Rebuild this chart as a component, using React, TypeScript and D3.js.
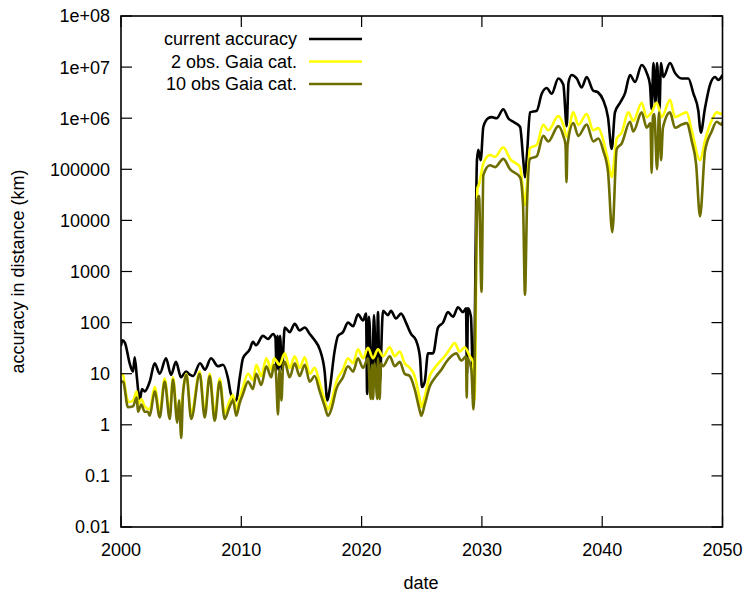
import React from 'react';
import * as d3 from 'd3';

// current accuracy (black)
const blackDates = [
  2000.0, 2000.12, 2000.33, 2000.72, 2001.0, 2001.14, 2001.33, 2001.55, 2001.75, 2001.97,
  2002.39, 2002.8, 2003.22, 2003.74, 2004.16, 2004.57, 2004.99, 2005.4, 2005.74, 2005.99,
  2006.57, 2006.98, 2007.48, 2008.06, 2008.48, 2008.9, 2009.14, 2009.56, 2009.89, 2010.14,
  2010.7, 2010.97, 2011.22, 2011.8, 2012.22, 2012.64, 2012.84, 2012.93, 2013.01, 2013.13,
  2013.22, 2013.38, 2013.61, 2014.02, 2014.44, 2014.85, 2015.27, 2015.69, 2016.1, 2016.52,
  2016.93, 2017.15, 2017.35, 2017.76, 2018.04, 2018.45, 2018.87, 2019.29, 2019.7, 2020.12,
  2020.37, 2020.46, 2020.62, 2020.86, 2021.03, 2021.24, 2021.36, 2021.5, 2021.78, 2022.19,
  2022.44, 2022.86, 2023.28, 2023.69, 2024.11, 2024.52, 2024.85, 2025.02, 2025.25, 2025.52,
  2025.94, 2026.35, 2026.77, 2027.18, 2027.6, 2028.01, 2028.43, 2028.68, 2028.76, 2028.84,
  2029.09, 2029.3, 2029.59, 2029.7, 2029.9, 2030.12, 2030.53, 2030.81, 2031.23, 2031.78,
  2032.19, 2032.61, 2033.17, 2033.44, 2033.58, 2033.75, 2034.0, 2034.56, 2034.97, 2035.39,
  2035.8, 2036.35, 2036.77, 2037.05, 2037.2, 2037.46, 2037.88, 2038.3, 2038.71, 2039.24,
  2039.65, 2040.07, 2040.48, 2040.79, 2041.06, 2041.48, 2041.9, 2042.31, 2042.73, 2043.28,
  2043.7, 2043.97, 2044.11, 2044.26, 2044.43, 2044.56, 2044.76, 2044.89, 2045.08, 2045.64,
  2046.05, 2046.61, 2047.16, 2047.57, 2047.99, 2048.19, 2048.55, 2048.96, 2049.38, 2049.65,
  2050.0,
];
const blackValues = [
  35, 45, 40, 16, 11, 21, 8, 3, 5, 4.5,
  7, 16, 10, 20, 9.5, 17, 8.5, 11, 9.5, 9,
  16, 12, 20, 14, 15, 8, 4, 3, 9, 20,
  30, 42, 36, 55, 48, 60, 50, 12, 55, 12,
  55, 12, 80, 65, 95, 70, 80, 60, 45, 30,
  11, 3, 5, 28, 55, 65, 100, 85, 145, 110,
  150, 4, 130, 6, 140, 5, 160, 6, 170, 140,
  170, 120, 150, 100, 60, 45, 21, 5.5, 7, 25,
  25, 80, 100, 160, 130, 200, 160, 190, 10, 190,
  130, 3, 1.5e5, 2.4e5, 1.5e5, 6.8e5, 1e6, 1.05e6, 1e6, 1.5e6,
  1e6, 8.5e5, 6.8e5, 1.5e5, 7e4, 2e5, 1.3e6, 1.4e6, 3e6, 3.9e6,
  3e6, 6e6, 4.5e6, 7e5, 5e6, 7e6, 6e6, 4e6, 6.4e6, 3.5e6,
  3.2e6, 2.3e6, 1.05e6, 2.5e5, 1.3e6, 2e6, 3.1e6, 7e6, 5.1e6, 1.1e7,
  7.7e6, 4.5e6, 1.5e6, 1.2e7, 2e6, 1.2e7, 1.5e6, 1.2e7, 6.4e6, 1.2e7,
  7.7e6, 6e6, 6e6, 3.1e6, 1.4e6, 5.2e5, 1.6e6, 4.5e6, 6.4e6, 5.6e6,
  7e6,
];

// 2 obs. Gaia cat. (yellow)
const yellowDates = [
  2000.0, 2000.17, 2000.42, 2000.67, 2001.0, 2001.31, 2001.41, 2001.69, 2001.97, 2002.39,
  2002.8, 2003.22, 2003.63, 2004.05, 2004.32, 2004.68, 2005.01, 2005.43, 2005.84, 2006.54,
  2006.96, 2007.37, 2007.79, 2008.2, 2008.62, 2009.04, 2009.31, 2009.58, 2009.87, 2010.14,
  2010.56, 2010.97, 2011.25, 2011.66, 2012.08, 2012.49, 2012.72, 2013.18, 2013.61, 2014.02,
  2014.44, 2014.85, 2015.27, 2015.69, 2016.1, 2016.52, 2016.93, 2017.21, 2017.48, 2017.9,
  2018.45, 2018.87, 2019.29, 2019.7, 2020.12, 2020.53, 2020.95, 2021.36, 2021.78, 2022.34,
  2022.75, 2023.17, 2023.58, 2024.0, 2024.41, 2024.83, 2024.96, 2025.25, 2025.66, 2026.08,
  2026.49, 2026.91, 2027.32, 2027.74, 2028.15, 2028.57, 2028.99, 2029.26, 2029.39, 2029.63,
  2029.76, 2029.93, 2030.12, 2030.67, 2031.09, 2031.78, 2032.34, 2033.17, 2033.44, 2033.58,
  2033.75, 2034.0, 2034.56, 2035.1, 2035.52, 2036.35, 2036.77, 2037.05, 2037.6, 2038.01,
  2038.71, 2039.26, 2039.68, 2040.09, 2040.48, 2040.79, 2041.21, 2041.62, 2042.17, 2042.59,
  2043.28, 2043.7, 2044.11, 2044.53, 2044.95, 2045.64, 2046.05, 2046.61, 2047.02, 2047.44,
  2048.13, 2048.55, 2049.1, 2049.52, 2049.93, 2050.0,
];
const yellowValues = [
  10, 9.5, 4, 2.8, 3, 4.5, 2.5, 3.2, 2.3, 2,
  5.5, 1.8, 8, 1.7, 8.5, 1.5, 2.5, 10, 1.7, 11,
  1.8, 10, 1.6, 8, 1.7, 3, 3.8, 2, 3.4, 5.5,
  10, 7.5, 15, 9, 20, 12, 20, 15, 25, 13,
  22, 13, 21, 10, 13, 6.5, 3, 2, 2.8, 7,
  12, 20, 16, 30, 20, 32, 20, 30, 22, 33,
  22, 27, 16, 13, 9, 3.2, 2.2, 3.6, 9, 13,
  17, 22, 30, 40, 27, 33, 22, 17, 3, 4.3e4,
  5e4, 8e4, 1.3e5, 1.9e5, 1.75e5, 2.7e5, 1.6e5, 1.1e5, 3.4e4, 2e4,
  5e4, 2.6e5, 3e5, 7.4e5, 5.8e5, 1.1e6, 7.4e5, 4.3e5, 1.3e6, 7.4e5,
  1.2e6, 5.8e5, 6.4e5, 3.7e5, 1.5e5, 7e4, 4e5, 5.2e5, 1.3e6, 8.8e5,
  2e6, 1.05e6, 1.3e6, 2e6, 1.05e6, 2.3e6, 1.05e6, 1.2e6, 1.3e6, 5.8e5,
  1.5e5, 3.7e5, 9e5, 1.3e6, 1.2e6, 1.3e6,
];

// 10 obs Gaia cat. (olive)
const oliveDates = [
  2000.0, 2000.17, 2000.58, 2001.0, 2001.31, 2001.41, 2001.69, 2001.97, 2002.24, 2002.39,
  2002.8, 2003.22, 2003.63, 2004.05, 2004.32, 2004.68, 2004.82, 2005.01, 2005.15, 2005.43,
  2005.84, 2006.54, 2006.96, 2007.37, 2007.79, 2008.2, 2008.62, 2009.04, 2009.31, 2009.58,
  2009.87, 2010.14, 2010.56, 2010.97, 2011.25, 2011.66, 2012.08, 2012.49, 2012.72, 2012.88,
  2013.05, 2013.18, 2013.34, 2013.47, 2013.61, 2014.02, 2014.44, 2014.85, 2015.27, 2015.69,
  2016.1, 2016.52, 2016.93, 2017.21, 2017.48, 2017.9, 2018.45, 2018.87, 2019.29, 2019.7,
  2020.12, 2020.53, 2020.76, 2020.86, 2020.95, 2021.07, 2021.31, 2021.36, 2021.5, 2021.61,
  2021.78, 2022.34, 2022.75, 2023.17, 2023.58, 2024.0, 2024.41, 2024.83, 2024.96, 2025.25,
  2025.66, 2026.21, 2026.63, 2027.04, 2027.46, 2027.87, 2028.29, 2028.68, 2028.74, 2028.8,
  2029.12, 2029.3, 2029.63, 2029.76, 2029.97, 2030.12, 2030.67, 2031.09, 2031.78, 2032.34,
  2033.17, 2033.42, 2033.58, 2033.75, 2034.0, 2034.56, 2035.1, 2035.52, 2036.35, 2036.77,
  2036.95, 2037.03, 2037.12, 2037.6, 2038.01, 2038.71, 2039.26, 2039.68, 2040.09, 2040.48,
  2040.84, 2041.21, 2041.62, 2042.31, 2042.59, 2043.28, 2043.7, 2044.01, 2044.11, 2044.22,
  2044.33, 2044.56, 2044.72, 2044.89, 2045.05, 2045.64, 2046.05, 2046.61, 2047.02, 2047.44,
  2047.8, 2048.13, 2048.55, 2049.1, 2049.52, 2049.93, 2050.0,
];
const oliveValues = [
  7, 7, 2.2, 2.3, 3.4, 1.8, 2.5, 1.8, 1.8, 1.5,
  4.5, 1.4, 7, 1.3, 7.7, 1.1, 3, 0.55, 4, 9.5,
  1.3, 10, 1.4, 9, 1.2, 7, 1.3, 2.3, 3, 1.5,
  2.7, 4, 7, 5, 10, 6, 14, 8.5, 15, 10,
  1.6, 12, 3, 14, 17, 8.5, 16, 9, 15, 7,
  9, 4.5, 2.3, 1.5, 2, 5, 8.5, 14, 11, 20,
  13, 20, 3.2, 15, 3.2, 16, 3.2, 20, 3.2, 16,
  14, 22, 14, 17, 10, 9, 5, 1.9, 1.5, 2.5,
  5.6, 9, 12, 17, 22, 25, 18, 22, 3.4, 20,
  12, 2, 2.5e4, 3e4, 400, 7.7e4, 1.2e5, 1.1e5, 1.6e5, 1e5,
  7e4, 2e4, 350, 2e4, 1.6e5, 1.8e5, 4.5e5, 3.5e5, 7e5, 4.5e5,
  3e5, 5.6e4, 3e5, 8e5, 4.5e5, 7.5e5, 3.5e5, 4e5, 2.3e5, 9e4,
  5.9e3, 2.5e5, 3.2e5, 8.5e5, 5.5e5, 1.3e6, 6.5e5, 8e5, 8.5e4, 1.1e6,
  1.2e6, 1e5, 1.3e6, 1.5e5, 6.5e5, 1.3e6, 6.5e5, 7.5e5, 8e5, 3.6e5,
  1.3e5, 1.2e4, 2.3e5, 5.5e5, 8.5e5, 7.5e5, 8.5e5,
];

const xTickValues = [2000, 2010, 2020, 2030, 2040, 2050];
const yTickValues = [0.01, 0.1, 1, 10, 100, 1000, 1e4, 1e5, 1e6, 1e7, 1e8];
const yTickLabels = ['0.01', '0.1', '1', '10', '100', '1000', '10000', '100000', '1e+06', '1e+07', '1e+08'];

const seriesNames = ['current accuracy', '2 obs. Gaia cat.', '10 obs Gaia cat.'];
const seriesColors = ['#000000', '#ffff00', '#6e6e00'];

const W = 745;
const H = 593;
const left = 121;
const right = 722.5;
const top = 16;
const bottom = 527;
const font = "'Liberation Sans', Arial, Helvetica, sans-serif";

export default function App() {
  const x = d3.scaleLinear().domain([2000, 2050]).range([left, right]);
  const y = d3.scaleLog().domain([0.01, 1e8]).range([bottom, top]);

  const line = d3
    .line<[number, number]>()
    .x((d) => x(d[0]))
    .y((d) => y(d[1]))
    .curve(d3.curveMonotoneX);

  const series = [
    d3.zip(blackDates, blackValues) as [number, number][],
    d3.zip(yellowDates, yellowValues) as [number, number][],
    d3.zip(oliveDates, oliveValues) as [number, number][],
  ];

  const tick = 11;

  return (
    <svg
      width={W}
      height={H}
      style={{ position: 'absolute', left: 0, top: 0, background: '#fff' }}
      fontFamily={font}
      fontSize={18}
    >
      <defs>
        <clipPath id="plot">
          <rect x={left} y={top} width={right - left} height={bottom - top} />
        </clipPath>
      </defs>

      {/* data lines */}
      <g clipPath="url(#plot)">
        {series.map((s, i) => (
          <path
            key={i}
            d={line(s) || ''}
            fill="none"
            stroke={seriesColors[i]}
            strokeWidth={2.6}
            strokeLinejoin="round"
          />
        ))}
      </g>

      {/* ticks, mirrored on all sides */}
      <g stroke="#000" strokeWidth={1.2}>
        {yTickValues.map((v) => (
          <g key={v}>
            <line x1={left} x2={left + tick} y1={y(v)} y2={y(v)} />
            <line x1={right} x2={right - tick} y1={y(v)} y2={y(v)} />
          </g>
        ))}
        {xTickValues.map((v) => (
          <g key={v}>
            <line x1={x(v)} x2={x(v)} y1={bottom} y2={bottom - tick} />
            <line x1={x(v)} x2={x(v)} y1={top} y2={top + tick} />
          </g>
        ))}
      </g>

      <rect
        x={left}
        y={top}
        width={right - left}
        height={bottom - top}
        fill="none"
        stroke="#000"
        strokeWidth={1.6}
      />

      {/* tick labels */}
      {yTickValues.map((v, i) => (
        <text key={v} x={left - 11} y={y(v)} dy="0.36em" textAnchor="end" fill="#000">
          {yTickLabels[i]}
        </text>
      ))}
      {xTickValues.map((v) => (
        <text key={v} x={x(v)} y={556} textAnchor="middle" fill="#000">
          {v}
        </text>
      ))}

      {/* axis titles */}
      <text x={421} y={589} textAnchor="middle" fill="#000">
        date
      </text>
      <text
        transform={`translate(24,${(top + bottom) / 2}) rotate(-90)`}
        textAnchor="middle"
        fill="#000"
      >
        accuracy in distance (km)
      </text>

      {/* legend */}
      {seriesNames.map((name, i) => {
        const ly = 39 + i * 22.5;
        return (
          <g key={name}>
            <text x={297} y={ly} dy="0.36em" textAnchor="end" fill="#000">
              {name}
            </text>
            <line x1={309} x2={362} y1={ly} y2={ly} stroke={seriesColors[i]} strokeWidth={2.6} />
          </g>
        );
      })}
    </svg>
  );
}
